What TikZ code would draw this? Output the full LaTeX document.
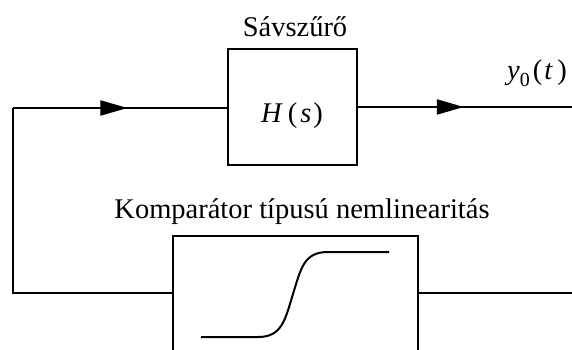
\documentclass[tikz,border=0pt]{standalone}
\usepackage{fontspec}
\setmainfont{Liberation Serif}
\usetikzlibrary{arrows.meta,decorations.markings}
\begin{document}
\begin{tikzpicture}[x=1pt,y=-1pt,
  wire/.style={line width=2pt},
  blockbox/.style={draw,line width=2pt,inner sep=0pt},
  lbl/.style={font=\fontsize{28.5}{30}\selectfont,inner sep=0pt},
  tri/.style={decoration={markings,mark=at position #1 with {\arrow{Triangle[length=27pt,width=15pt]}}},postaction={decorate}}
]
\useasboundingbox (0,0) rectangle (572,350);
\fill[white] (0,0) rectangle (572,350);
\clip (0,0) rectangle (572,350);
% blocks
\node[blockbox,minimum width=129pt,minimum height=116pt] (H) at (292.5,107) {};
\node[blockbox,minimum width=245pt,minimum height=120pt] (N) at (295,296) {};
% labels
\node[lbl,anchor=base] (Ht) at (292,122) {\itshape H\hspace{6pt}\upshape(\hspace{3pt}\itshape s\hspace{2pt}\upshape)};
\node[lbl,anchor=base] (Hl) at (295,37) {Sávszűrő};
\node[lbl,anchor=base] (Nl) at (302,218) {Komparátor típusú nemlinearitás};
\node[lbl,anchor=base west] (yl) at (507,80) {\itshape y\upshape\raisebox{-7pt}{\fontsize{20}{20}\selectfont 0}\hspace{3pt}(\hspace{2pt}\itshape t\hspace{5pt}\upshape)};
% coordinates
\coordinate (c1) at (13,108);
\coordinate (c2) at (13,293);
\coordinate (out) at (574,107);
\coordinate (nout) at (574,293);
% connectors
\draw[wire,tri=0.535] (c1) -- (H.west |- c1);
\draw[wire,tri=0.49] (H.east |- out) -- (out);
\draw[wire] (N.west |- c2) -- (c2) -- (c1);
\draw[wire] (N.east |- nout) -- (nout);
% characteristic curve
\draw[wire] (201,337) -- (258,337) .. controls (282,337) and (285,320) .. (293,294)
  .. controls (301,268) and (304,252) .. (328,252) -- (389,252);
\end{tikzpicture}
\end{document}
